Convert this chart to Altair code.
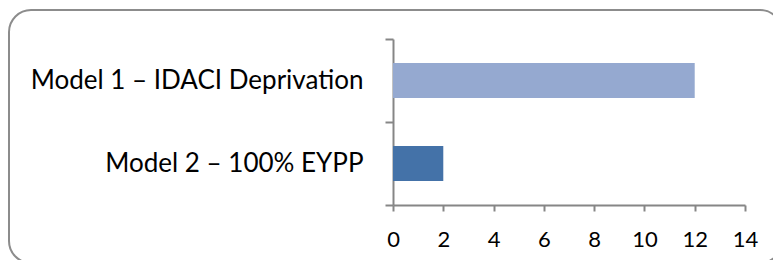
import altair as alt
import pandas as pd

categories = ["Model 1 – IDACI Deprivation", "Model 2 – 100% EYPP"]
values = [12, 2]
colors = ["#95A9D0", "#4472A8"]
x_ticks = [0, 2, 4, 6, 8, 10, 12, 14]

df = pd.DataFrame({"model": categories, "value": values, "color": colors})

W, H = 352, 166
FONT = "Lato"

bars = alt.Chart(df).mark_bar(size=35).encode(
    x=alt.X("value:Q", scale=alt.Scale(domain=[0, 14], nice=False),
            axis=alt.Axis(values=x_ticks, title=None, grid=False, domainColor="#868686",
                          tickColor="#868686", tickSize=6, domainWidth=2, tickWidth=2,
                          labelFont=FONT, labelFontSize=22, labelColor="#000000",
                          labelPadding=18, labelLimit=0, labelFlush=False,
                          labelOverlap=False)),
    y=alt.Y("model:N", sort=categories,
            scale=alt.Scale(paddingInner=0, paddingOuter=0),
            axis=alt.Axis(title=None, grid=False, domainColor="#868686",
                          tickColor="#868686", tickSize=8, domainWidth=2, tickWidth=2,
                          tickBand="extent", labelFont=FONT, labelFontSize=26,
                          labelColor="#000000", labelPadding=22, labelLimit=0)),
    color=alt.Color("color:N", scale=None),
)

border = alt.Chart(pd.DataFrame({"a": [0]})).mark_rect(
    fill=None, stroke="#8C8C8C", strokeWidth=2, cornerRadius=22, clip=False
).encode(
    x=alt.value(9 - 393), x2=alt.value(782 - 393),
    y=alt.value(10 - 39), y2=alt.value(263 - 39),
)

chart = alt.layer(border, bars).properties(
    width=W, height=H,
    background="white",
    autosize=alt.AutoSizeParams(type="none"),
    padding={"left": 385, "top": 31, "right": 28, "bottom": 55},
).configure_view(stroke=None)

chart.save("out.html", embed_options={"renderer": "svg", "actions": False})
